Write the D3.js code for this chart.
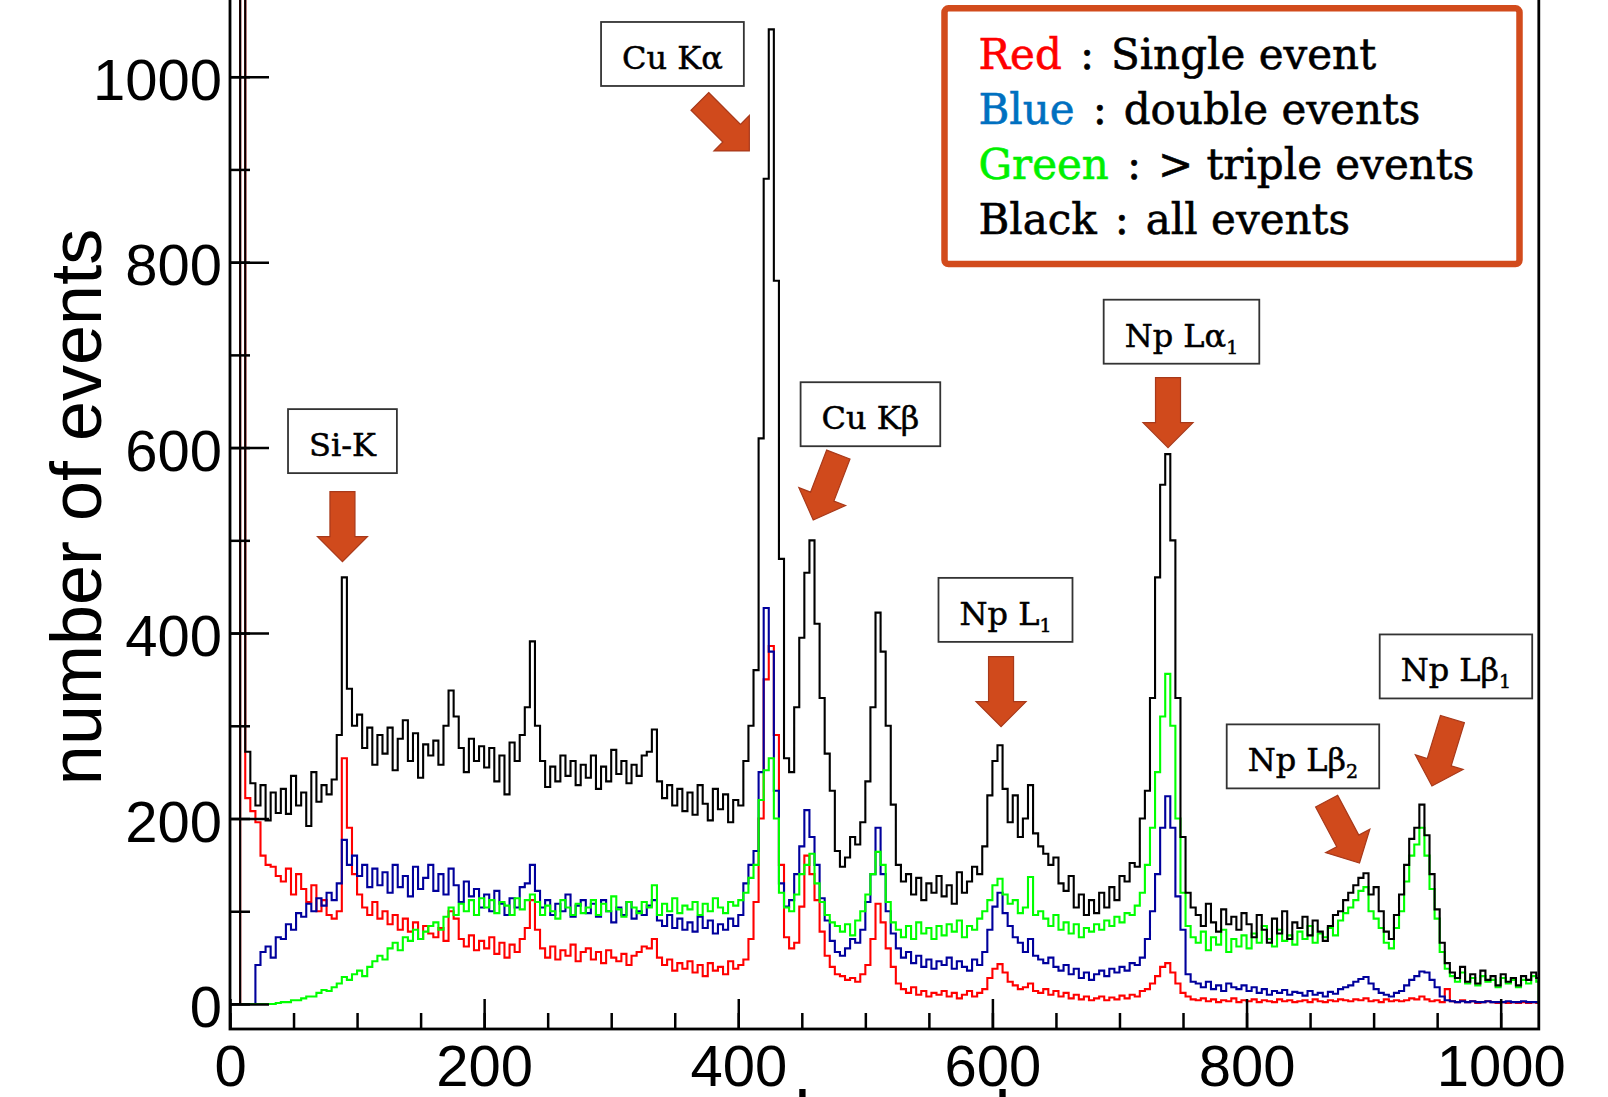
<!DOCTYPE html>
<html>
<head>
<meta charset="utf-8">
<script src="https://cdn.jsdelivr.net/npm/d3@7"></script>
<style>
  html, body { margin: 0; padding: 0; background: #fff; }
  svg { display: block; }
</style>
</head>
<body>
<svg id="chart" width="1608" height="1097"></svg>
<script>
// histogram contents, rebinned to 4 channels per bin (bin i starts at channel 4*i)
var binWidth = 4;

var allEvents = [
  0, 0, 1400, 272, 238, 214, 236, 198, 228, 206,
  232, 205, 246, 214, 228, 192, 250, 218, 236, 226,
  242, 290, 460, 340, 300, 312, 276, 298, 258, 290,
  270, 298, 252, 286, 306, 262, 292, 244, 280, 268,
  284, 258, 300, 338, 310, 276, 250, 286, 262, 278,
  255, 276, 240, 268, 226, 282, 262, 290, 320, 391,
  300, 262, 234, 256, 240, 268, 246, 262, 236, 258,
  244, 268, 232, 256, 240, 274, 248, 262, 238, 258,
  246, 268, 272, 296, 240, 222, 236, 214, 232, 208,
  228, 204, 236, 216, 198, 232, 210, 226, 196, 220,
  214, 262, 300, 360, 610, 890, 1051, 780, 480, 265,
  250, 320, 395, 465, 500, 410, 330, 270, 230, 165,
  148, 158, 180, 172, 196, 240, 320, 422, 380, 300,
  215, 150, 132, 140, 118, 136, 112, 130, 120, 138,
  116, 128, 108, 142, 120, 132, 148, 140, 170, 225,
  262, 279, 232, 196, 225, 180, 200, 236, 184, 170,
  162, 150, 158, 130, 122, 138, 104, 118, 96, 112,
  98, 120, 104, 126, 112, 138, 132, 152, 148, 200,
  230, 330, 460, 560, 593, 500, 330, 180, 120, 104,
  96, 84, 108, 88, 78, 102, 86, 94, 80, 98,
  86, 72, 96, 80, 66, 92, 76, 100, 70, 88,
  82, 94, 74, 90, 78, 68, 84, 96, 100, 112,
  120, 128, 136, 141, 118, 126, 100, 78, 70, 96,
  118, 150, 178, 190, 215, 182, 140, 102, 66, 44,
  34, 28, 40, 24, 32, 22, 36, 26, 30, 20,
  32, 24, 28, 20, 30, 26, 34, 28
];

var singleEvents = [
  0, 0, 1400, 222, 208, 196, 160, 150, 148, 138,
  132, 146, 118, 140, 124, 110, 128, 100, 112, 96,
  92, 100, 265, 190, 140, 118, 104, 96, 110, 92,
  100, 86, 96, 80, 92, 78, 88, 70, 84, 76,
  72, 82, 68, 100, 92, 70, 62, 74, 58, 68,
  60, 72, 54, 66, 50, 64, 56, 70, 82, 112,
  80, 60, 50, 62, 48, 58, 52, 64, 46, 56,
  60, 48, 56, 44, 58, 50, 46, 54, 42, 52,
  56, 62, 60, 70, 50, 42, 48, 36, 44, 38,
  46, 34, 42, 30, 44, 36, 40, 32, 46, 38,
  42, 48, 70, 110, 200, 350, 386, 290, 150, 72,
  60, 66, 105, 160, 140, 112, 78, 52, 40, 32,
  30, 26, 28, 24, 32, 42, 70, 108, 88, 60,
  40, 22, 16, 12, 18, 10, 14, 8, 12, 10,
  14, 8, 12, 6, 10, 14, 8, 12, 16, 28,
  38, 43, 34, 24, 20, 16, 18, 22, 14, 12,
  16, 10, 14, 8, 12, 6, 10, 5, 8, 4,
  6, 8, 4, 7, 5, 9, 6, 10, 8, 14,
  16, 22, 30, 40, 44, 34, 22, 12, 8, 5,
  4, 6, 3, 5, 2, 4, 3, 6, 2, 4,
  3, 5, 2, 4, 3, 2, 5, 3, 4, 2,
  3, 4, 2, 5, 3, 2, 4, 3, 5, 4,
  3, 5, 4, 6, 3, 4, 2, 5, 3, 4,
  3, 4, 6, 5, 8, 5, 3, 4, 2, 16,
  3, 2, 4, 2, 3, 1, 2, 3, 2, 1,
  2, 1, 2, 1, 2, 1, 2, 1
];

var doubleEvents = [
  0, 0, 0, 0, 0, 42, 56, 62, 50, 72,
  70, 86, 80, 98, 94, 108, 100, 114, 106, 120,
  112, 130, 177, 150, 160, 138, 150, 126, 146, 128,
  142, 120, 150, 126, 138, 116, 148, 124, 136, 150,
  122, 140, 118, 146, 128, 110, 132, 116, 124, 104,
  118, 100, 122, 108, 96, 114, 104, 126, 130, 150,
  122, 104, 112, 96, 108, 100, 118, 94, 106, 112,
  98, 108, 94, 112, 100, 88, 104, 96, 110, 92,
  100, 96, 106, 112, 90, 84, 96, 82, 92, 80,
  88, 78, 94, 82, 90, 76, 86, 80, 92, 84,
  96, 130, 150, 165, 250, 427, 380, 230, 130, 105,
  112, 140, 170, 209, 180, 150, 114, 90, 68, 56,
  52, 60, 70, 66, 80, 110, 140, 190, 140, 100,
  76, 60, 50, 56, 44, 52, 40, 48, 38, 46,
  42, 50, 38, 46, 40, 36, 48, 42, 56, 80,
  105, 120, 98, 84, 72, 66, 56, 70, 52, 48,
  44, 50, 40, 36, 42, 32, 38, 28, 34, 26,
  32, 36, 30, 38, 34, 40, 36, 44, 42, 50,
  70, 100, 140, 190, 224, 190, 116, 80, 32, 24,
  22, 18, 24, 16, 20, 14, 22, 18, 16, 20,
  14, 18, 12, 16, 10, 14, 12, 15, 10, 13,
  12, 9, 14, 10, 12, 8, 13, 11, 16, 18,
  20, 24, 27, 29, 22, 16, 12, 10, 8, 12,
  14, 20, 26, 30, 35, 34, 26, 18, 8, 4,
  3, 2, 3, 2, 3, 2, 2, 3, 2, 2,
  2, 3, 2, 2, 3, 2, 2, 2
];

var tripleEvents = [
  0, 0, 0, 0, 0, 0, 0, 0, 0, 1,
  2, 2, 4, 4, 6, 8, 8, 12, 15, 14,
  18, 22, 29, 26, 32, 36, 30, 40, 46, 52,
  48, 60, 66, 58, 72, 68, 80, 70, 78, 84,
  88, 80, 94, 104, 96, 108, 100, 112, 96, 114,
  104, 112, 98, 110, 106, 96, 114, 102, 112, 118,
  110, 96, 106, 100, 92, 112, 104, 96, 108, 98,
  104, 112, 96, 108, 100, 116, 102, 94, 110, 104,
  98, 110, 104, 128, 96, 108, 100, 114, 98, 106,
  102, 110, 96, 108, 100, 114, 104, 98, 110, 106,
  112, 120, 136, 150, 220, 252, 265, 200, 120, 104,
  100, 118, 140, 150, 162, 130, 110, 96, 88, 84,
  78, 86, 74, 90, 100, 118, 140, 164, 150, 110,
  88, 80, 72, 84, 70, 88, 76, 82, 70, 84,
  74, 86, 78, 90, 72, 84, 80, 92, 100, 112,
  128, 135, 118, 108, 112, 98, 104, 137, 96, 100,
  92, 84, 96, 80, 88, 76, 86, 72, 82, 78,
  86, 80, 90, 84, 94, 88, 98, 96, 106, 120,
  150, 190, 250, 310, 356, 300, 200, 120, 84, 72,
  66, 78, 58, 72, 64, 80, 56, 70, 62, 74,
  60, 76, 66, 84, 70, 62, 80, 68, 74, 64,
  78, 70, 84, 66, 76, 72, 82, 74, 90, 98,
  104, 112, 122, 126, 100, 92, 82, 66, 60, 82,
  100, 132, 160, 172, 190, 160, 124, 92, 56, 38,
  30, 24, 34, 22, 28, 20, 30, 24, 26, 18,
  28, 22, 26, 18, 26, 22, 30, 24
];

var xTicks = [0, 200, 400, 600, 800, 1000];
var yTicks = [0, 200, 400, 600, 800, 1000];

// peak labels: box centre and arrow tip given in (channel, counts)
var peakNames = ["Si-K", "Cu K\u03b1", "Cu K\u03b2", "Np L", "Np L\u03b1", "Np L\u03b2", "Np L\u03b2"];
var peakSubs = ["", "", "", "1", "1", "2", "1"];
var boxChannel = [88.5, 348.2, 504, 610.3, 748.8, 844.4, 964.8];
var boxCounts = [607, 1024.5, 636, 425, 725, 267, 364];
var tipChannel = [88.5, 408.7, 459, 606.8, 738.2, 888.9, 945.9];
var tipCounts = [477, 920, 522, 299, 600, 152, 235];
var arrowAngle = [90, 45, 111, 90, 90, 62, 107];

var legendKeys = ["Red", "Blue", "Green", "Black"];
var legendKeyColors = ["#ff0000", "#0070c0", "#00f000", "#000000"];
var legendTexts = ["Single event", "double events", "> triple events", "all events"];

var svg = d3.select("#chart");

var x = d3.scaleLinear().domain([0, 1030]).range([230, 1538.8]);
var y = d3.scaleLinear().domain([-27, 1000]).range([1029, 76.7]);

svg.append("defs").append("clipPath").attr("id", "plotClip")
  .append("rect")
  .attr("x", x(0)).attr("y", -50)
  .attr("width", x(1030) - x(0)).attr("height", y(-27) + 50);

//Histograms drawn as step outlines
var histLine = d3.line()
  .x(function (d) { return x(d[0]); })
  .y(function (d) { return y(d[1]); })
  .curve(d3.curveStepAfter);

function histPoints(counts) {
  var pts = counts.map(function (v, i) { return [i * binWidth, v]; });
  pts.push([1030, counts[counts.length - 1]]);
  pts.push([1030, 0]);
  return pts;
}

var series = [
  {counts: singleEvents, color: "#ff0000"},
  {counts: doubleEvents, color: "#00009c"},
  {counts: tripleEvents, color: "#00ff00"},
  {counts: allEvents, color: "#000000"}
];

var plot = svg.append("g").attr("clip-path", "url(#plotClip)");
plot.selectAll("path.hist")
  .data(series)
  .enter().append("path")
  .attr("class", "hist")
  .attr("d", function (s) { return histLine(histPoints(s.counts)); })
  .attr("fill", "none")
  .attr("stroke", function (s) { return s.color; })
  .attr("stroke-width", 2.1)
  .attr("stroke-linejoin", "miter");

//Axes with ticks pointing inwards
var axisFont = "'Liberation Sans', Arial, Helvetica, sans-serif";

var xMinor = svg.append("g").attr("transform", "translate(0," + y(-27) + ")")
  .call(d3.axisBottom(x).tickValues(d3.range(0, 1031, 50)).tickSize(-16).tickFormat(""));
var xMajor = svg.append("g").attr("transform", "translate(0," + y(-27) + ")")
  .call(d3.axisBottom(x).tickValues(xTicks).tickSize(-30).tickPadding(16).tickFormat(d3.format("d")));

var yMinor = svg.append("g").attr("transform", "translate(" + x(0) + ",0)")
  .call(d3.axisLeft(y).tickValues(d3.range(0, 1001, 100)).tickSize(-20).tickFormat(""));
var yMajor = svg.append("g").attr("transform", "translate(" + x(0) + ",0)")
  .call(d3.axisLeft(y).tickValues(yTicks).tickSize(-39).tickPadding(8).tickFormat(d3.format("d")));

[xMinor, xMajor, yMinor, yMajor].forEach(function (g) {
  g.select(".domain").remove();
  g.selectAll(".tick line").attr("stroke", "#000").attr("stroke-width", 2.5);
  g.selectAll("text")
    .attr("fill", "#000")
    .style("font-family", axisFont)
    .style("font-size", "58px");
});
yMajor.selectAll("text").attr("dy", "0.39em");

// frame
svg.append("rect")
  .attr("x", x(0)).attr("y", -20)
  .attr("width", x(1030) - x(0))
  .attr("height", y(-27) + 20)
  .attr("fill", "none")
  .attr("stroke", "#000")
  .attr("stroke-width", 2.8);

svg.append("text")
  .attr("transform", "translate(101," + 507 + ") rotate(-90)")
  .attr("text-anchor", "middle")
  .style("font-family", axisFont)
  .style("font-size", "72px")
  .text("number of events");

// x title sits mostly below the picture edge, as in the original
svg.append("text")
  .attr("x", (x(0) + x(1030)) / 2)
  .attr("y", 1141)
  .attr("text-anchor", "middle")
  .style("font-family", axisFont)
  .style("font-size", "72px")
  .text("channel");

//Peak annotations
var labelFont = "'DejaVu Serif', 'Liberation Serif', serif";
var arrowFill = "#d04a1c";

peakNames.forEach(function (name, i) {
  var cx = x(boxChannel[i]), cy = y(boxCounts[i]);
  var g = svg.append("g");
  var box = g.append("rect");
  var t = g.append("text")
    .attr("x", cx).attr("y", cy + 15)
    .attr("text-anchor", "middle")
    .style("font-family", labelFont)
    .style("font-size", "32px")
    .attr("fill", "#000")
    .attr("stroke", "#000")
    .attr("stroke-width", 0.5);
  t.append("tspan").text(name);
  if (peakSubs[i]) {
    t.append("tspan").attr("dy", 7).style("font-size", "19px").text(peakSubs[i]);
  }
  var w = t.node().getComputedTextLength() + 42;
  box.attr("x", cx - w / 2).attr("y", cy - 32)
    .attr("width", w).attr("height", 64)
    .attr("fill", "#fff")
    .attr("stroke", "#333")
    .attr("stroke-width", 1.8);

  var tx = x(tipChannel[i]), ty = y(tipCounts[i]);
  g.append("path")
    .attr("d", "M-70,-12.5L-25,-12.5L-25,-25L0,0L-25,25L-25,12.5L-70,12.5Z")
    .attr("transform", "translate(" + tx + "," + ty + ") rotate(" + arrowAngle[i] + ")")
    .attr("fill", arrowFill)
    .attr("stroke", "#a8391a")
    .attr("stroke-width", 1.2);
});

//Legend box
var legend = svg.append("g");
legend.append("rect")
  .attr("x", 944.5).attr("y", 8.3)
  .attr("width", 575).attr("height", 255.7)
  .attr("rx", 4)
  .attr("fill", "#fff")
  .attr("stroke", "#d24b1c")
  .attr("stroke-width", 6.5);

legendKeys.forEach(function (key, i) {
  var base = 69.3 + 55 * i;
  var k = legend.append("text")
    .attr("x", 978.5).attr("y", base)
    .attr("fill", legendKeyColors[i])
    .attr("stroke", legendKeyColors[i])
    .attr("stroke-width", 0.6)
    .style("font-family", labelFont)
    .style("font-size", "42px")
    .text(key);
  var end = 978.5 + k.node().getComputedTextLength();
  legend.append("text")
    .attr("x", end + 18).attr("y", base)
    .attr("stroke", "#000").attr("stroke-width", 0.6)
    .style("font-family", labelFont)
    .style("font-size", "42px")
    .text(":");
  legend.append("text")
    .attr("x", end + 49).attr("y", base)
    .attr("stroke", "#000").attr("stroke-width", 0.6)
    .style("font-family", labelFont)
    .style("font-size", "42px")
    .text(legendTexts[i]);
});
</script>
</body>
</html>
